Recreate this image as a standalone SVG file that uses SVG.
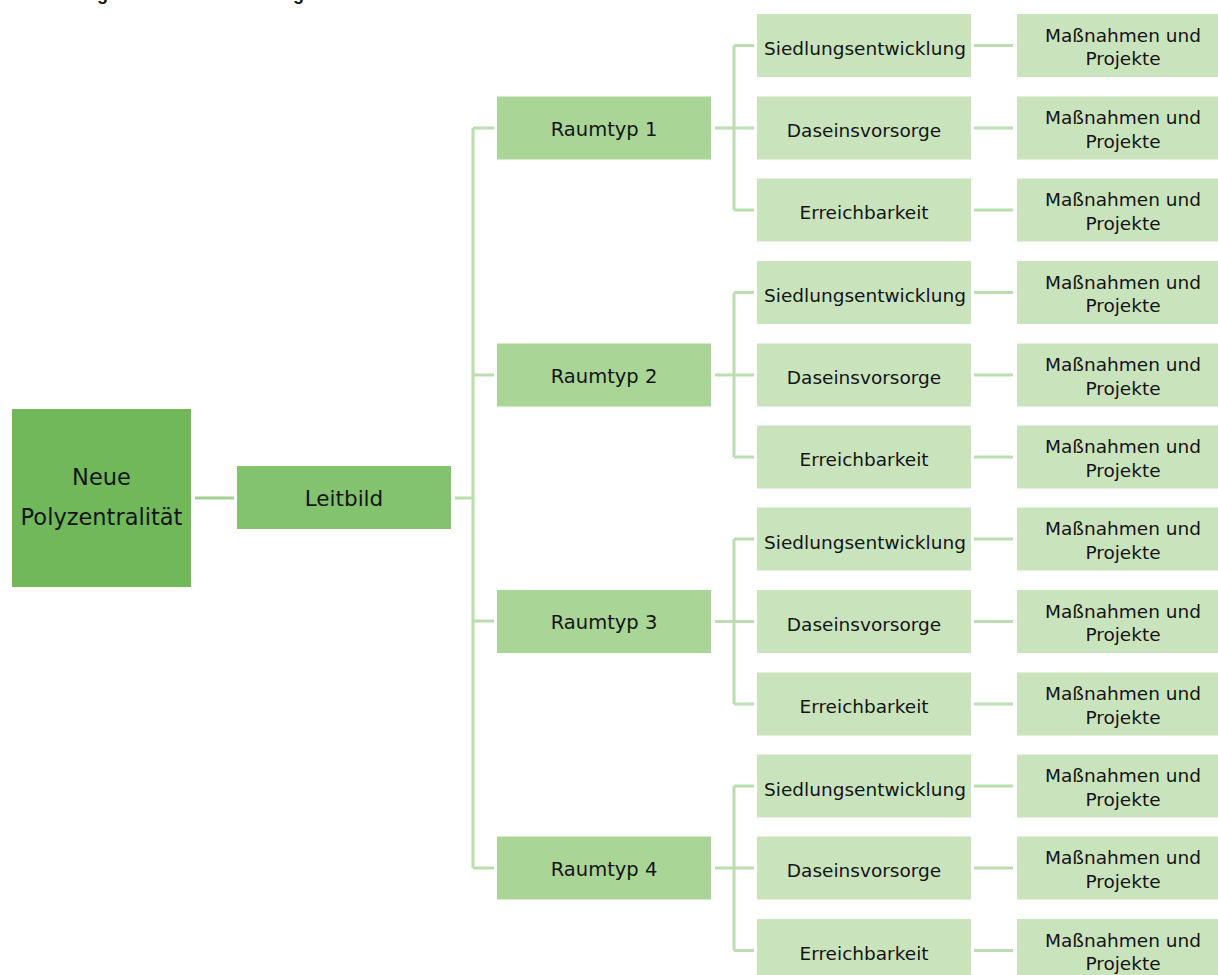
<svg xmlns="http://www.w3.org/2000/svg" width="1218" height="975" viewBox="0 0 1218 975">
  <style>
    .lbl { font-family: "DejaVu Sans", "Liberation Sans", sans-serif; fill: #141414; text-anchor: middle; }
    .cap { font-family: "Liberation Sans", Arial, sans-serif; font-weight: bold; font-size: 18px; fill: #111; }
    .root { fill: #71b85b; }
    .lead { fill: #83c36e; }
    .type { fill: #a9d597; }
    .leaf { fill: #c9e4bd; }
    .t-root { font-size: 22.5px; }
    .t-lead { font-size: 21.5px; }
    .t-type { font-size: 19.5px; }
    .t-leaf { font-size: 18.5px; }
    .wire { fill: none; stroke: #bcddaf; stroke-width: 3; }
    .wire-main { fill: none; stroke: #a5d093; stroke-width: 3; }
  </style>

  <rect width="1218" height="975" fill="#ffffff"/>

  <!-- caption, running off the top edge -->
  <g id="caption">
    <text class="cap" x="108" y="-0.5" text-anchor="end">Abbildung</text>
    <text class="cap" x="304" y="-0.5" text-anchor="end">Umsetzung</text>
  </g>

  <!-- connectors -->
  <g id="connectors">
    <path class="wire-main" d="M195 498 H234"/>
    <path class="wire" d="M455 498 H473 M473 128 V868 M473 128 H494 M473 375 H494 M473 621 H494 M473 868 H494"/>
    <!-- Raumtyp 1 -->
    <path class="wire" d="M715 128 H754 M734 45.5 V210 M734 45.5 H754 M734 210 H754"/>
    <!-- Raumtyp 2 -->
    <path class="wire" d="M715 375 H754 M734 292.5 V457 M734 292.5 H754 M734 457 H754"/>
    <!-- Raumtyp 3 -->
    <path class="wire" d="M715 621.5 H754 M734 539 V704 M734 539 H754 M734 704 H754"/>
    <!-- Raumtyp 4 -->
    <path class="wire" d="M715 868 H754 M734 786 V950.5 M734 786 H754 M734 950.5 H754"/>
    <!-- topic to measures -->
    <path class="wire" d="M974 45.5 H1013 M974 128 H1013 M974 210 H1013 M974 292.5 H1013 M974 375 H1013 M974 457 H1013 M974 539 H1013 M974 621.5 H1013 M974 704 H1013 M974 786 H1013 M974 868 H1013 M974 950.5 H1013"/>
  </g>

  <!-- level 0 / 1 -->
  <g id="node-root">
    <rect class="root" x="12" y="409" width="179" height="178"/>
    <text class="lbl t-root" x="101.5" y="485">Neue</text>
    <text class="lbl t-root" x="101.5" y="525">Polyzentralität</text>
  </g>
  <g id="node-leitbild">
    <rect class="lead" x="237" y="466" width="214" height="63"/>
    <text class="lbl t-lead" x="344" y="506">Leitbild</text>
  </g>

  <!-- level 2 -->
  <g id="node-raumtyp-1">
    <rect class="type" x="497" y="96.5" width="214" height="63"/>
    <text class="lbl t-type" x="604" y="135.5">Raumtyp 1</text>
  </g>
  <g id="node-raumtyp-2">
    <rect class="type" x="497" y="343.5" width="214" height="63"/>
    <text class="lbl t-type" x="604" y="382.5">Raumtyp 2</text>
  </g>
  <g id="node-raumtyp-3">
    <rect class="type" x="497" y="590" width="214" height="63"/>
    <text class="lbl t-type" x="604" y="629">Raumtyp 3</text>
  </g>
  <g id="node-raumtyp-4">
    <rect class="type" x="497" y="836.5" width="214" height="63"/>
    <text class="lbl t-type" x="604" y="875.5">Raumtyp 4</text>
  </g>

  <!-- level 3: topics -->
  <g id="node-r1-siedlung"><rect class="leaf" x="757" y="14" width="214" height="63"/><text class="lbl t-leaf" x="865" y="55">Siedlungsentwicklung</text></g>
  <g id="node-r1-daseins"><rect class="leaf" x="757" y="96.5" width="214" height="63"/><text class="lbl t-leaf" x="864" y="137">Daseinsvorsorge</text></g>
  <g id="node-r1-erreich"><rect class="leaf" x="757" y="178.5" width="214" height="63"/><text class="lbl t-leaf" x="864" y="219">Erreichbarkeit</text></g>

  <g id="node-r2-siedlung"><rect class="leaf" x="757" y="261" width="214" height="63"/><text class="lbl t-leaf" x="865" y="302">Siedlungsentwicklung</text></g>
  <g id="node-r2-daseins"><rect class="leaf" x="757" y="343.5" width="214" height="63"/><text class="lbl t-leaf" x="864" y="384">Daseinsvorsorge</text></g>
  <g id="node-r2-erreich"><rect class="leaf" x="757" y="425.5" width="214" height="63"/><text class="lbl t-leaf" x="864" y="466">Erreichbarkeit</text></g>

  <g id="node-r3-siedlung"><rect class="leaf" x="757" y="507.5" width="214" height="63"/><text class="lbl t-leaf" x="865" y="548.5">Siedlungsentwicklung</text></g>
  <g id="node-r3-daseins"><rect class="leaf" x="757" y="590" width="214" height="63"/><text class="lbl t-leaf" x="864" y="630.5">Daseinsvorsorge</text></g>
  <g id="node-r3-erreich"><rect class="leaf" x="757" y="672.5" width="214" height="63"/><text class="lbl t-leaf" x="864" y="713">Erreichbarkeit</text></g>

  <g id="node-r4-siedlung"><rect class="leaf" x="757" y="754.5" width="214" height="63"/><text class="lbl t-leaf" x="865" y="795.5">Siedlungsentwicklung</text></g>
  <g id="node-r4-daseins"><rect class="leaf" x="757" y="836.5" width="214" height="63"/><text class="lbl t-leaf" x="864" y="877">Daseinsvorsorge</text></g>
  <g id="node-r4-erreich"><rect class="leaf" x="757" y="919" width="214" height="63"/><text class="lbl t-leaf" x="864" y="959.5">Erreichbarkeit</text></g>

  <!-- level 4: measures -->
  <g id="node-m1"><rect class="leaf" x="1017" y="14" width="212" height="63"/><text class="lbl t-leaf" x="1123" y="41.5">Maßnahmen und</text><text class="lbl t-leaf" x="1123" y="65">Projekte</text></g>
  <g id="node-m2"><rect class="leaf" x="1017" y="96.5" width="212" height="63"/><text class="lbl t-leaf" x="1123" y="124">Maßnahmen und</text><text class="lbl t-leaf" x="1123" y="147.5">Projekte</text></g>
  <g id="node-m3"><rect class="leaf" x="1017" y="178.5" width="212" height="63"/><text class="lbl t-leaf" x="1123" y="206">Maßnahmen und</text><text class="lbl t-leaf" x="1123" y="229.5">Projekte</text></g>
  <g id="node-m4"><rect class="leaf" x="1017" y="261" width="212" height="63"/><text class="lbl t-leaf" x="1123" y="288.5">Maßnahmen und</text><text class="lbl t-leaf" x="1123" y="312">Projekte</text></g>
  <g id="node-m5"><rect class="leaf" x="1017" y="343.5" width="212" height="63"/><text class="lbl t-leaf" x="1123" y="371">Maßnahmen und</text><text class="lbl t-leaf" x="1123" y="394.5">Projekte</text></g>
  <g id="node-m6"><rect class="leaf" x="1017" y="425.5" width="212" height="63"/><text class="lbl t-leaf" x="1123" y="453">Maßnahmen und</text><text class="lbl t-leaf" x="1123" y="476.5">Projekte</text></g>
  <g id="node-m7"><rect class="leaf" x="1017" y="507.5" width="212" height="63"/><text class="lbl t-leaf" x="1123" y="535">Maßnahmen und</text><text class="lbl t-leaf" x="1123" y="558.5">Projekte</text></g>
  <g id="node-m8"><rect class="leaf" x="1017" y="590" width="212" height="63"/><text class="lbl t-leaf" x="1123" y="617.5">Maßnahmen und</text><text class="lbl t-leaf" x="1123" y="641">Projekte</text></g>
  <g id="node-m9"><rect class="leaf" x="1017" y="672.5" width="212" height="63"/><text class="lbl t-leaf" x="1123" y="700">Maßnahmen und</text><text class="lbl t-leaf" x="1123" y="723.5">Projekte</text></g>
  <g id="node-m10"><rect class="leaf" x="1017" y="754.5" width="212" height="63"/><text class="lbl t-leaf" x="1123" y="782">Maßnahmen und</text><text class="lbl t-leaf" x="1123" y="805.5">Projekte</text></g>
  <g id="node-m11"><rect class="leaf" x="1017" y="836.5" width="212" height="63"/><text class="lbl t-leaf" x="1123" y="864">Maßnahmen und</text><text class="lbl t-leaf" x="1123" y="887.5">Projekte</text></g>
  <g id="node-m12"><rect class="leaf" x="1017" y="919" width="212" height="63"/><text class="lbl t-leaf" x="1123" y="946.5">Maßnahmen und</text><text class="lbl t-leaf" x="1123" y="970">Projekte</text></g>
</svg>
